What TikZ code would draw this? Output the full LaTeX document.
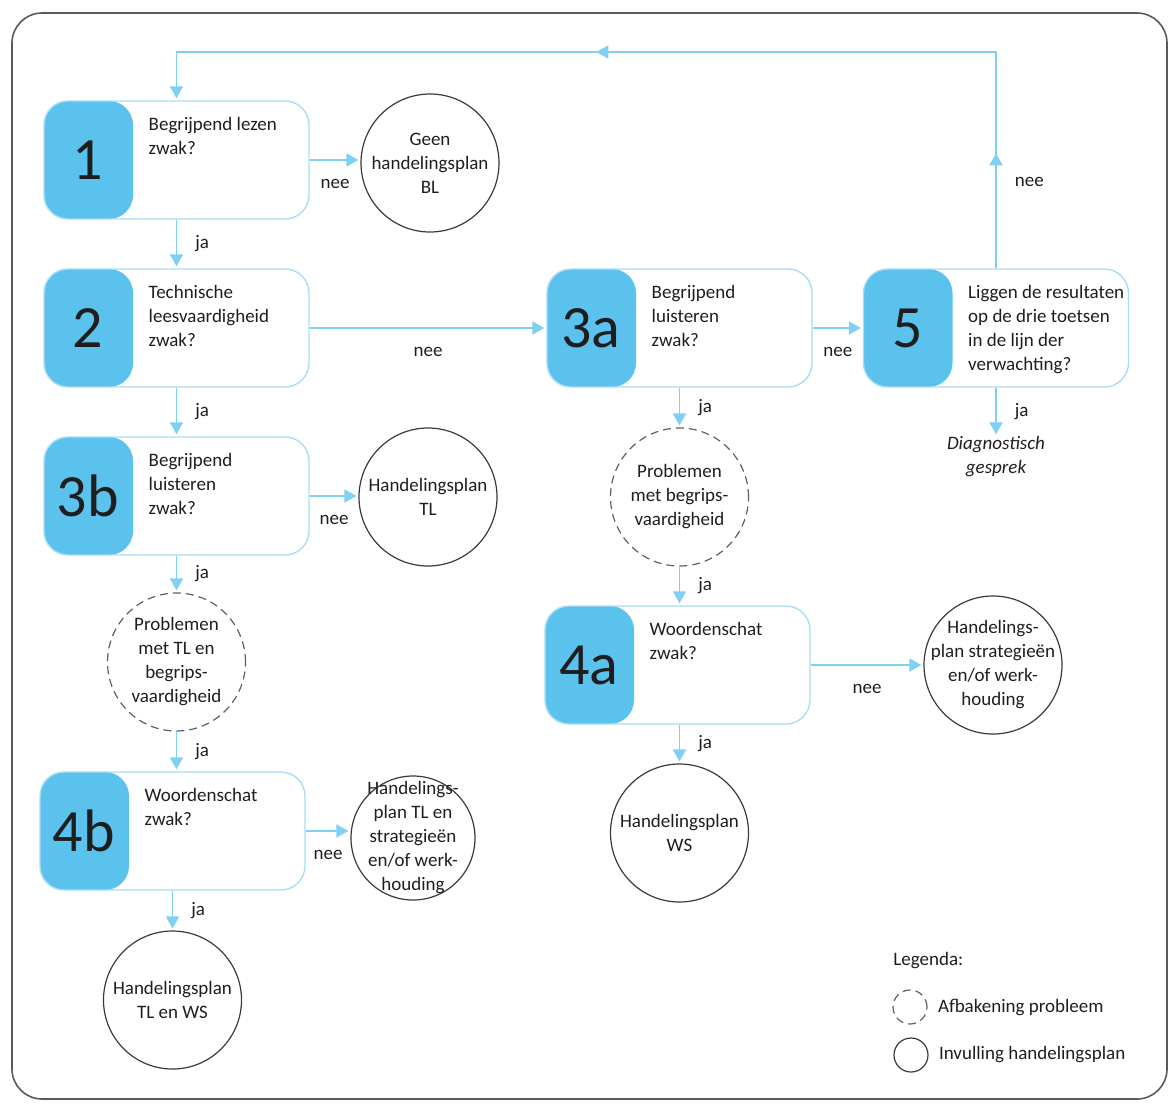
\documentclass[tikz,border=0pt]{standalone}
\usepackage{fontspec}
\setmainfont{Carlito}
\usetikzlibrary{arrows.meta,positioning,decorations.markings}

\definecolor{blauw}{HTML}{5BC2EE}
\definecolor{pijlkleur}{HTML}{7FD0F2}
\definecolor{rand}{HTML}{A9DDF3}
\definecolor{cirkel}{HTML}{3A3A3A}
\definecolor{streep}{HTML}{606060}
\definecolor{kader}{HTML}{5A5A5A}
\definecolor{tekst}{HTML}{1E1E1E}

\tikzset{
  vraagbox/.style={draw=rand, line width=0.7pt, rounded corners=12pt,
    minimum width=132.5pt, minimum height=59pt, inner sep=0pt,
    path picture={\fill[blauw] (path picture bounding box.south west)
      rectangle ([xshift=44.5pt]path picture bounding box.north west);}},
  nummer/.style={font=\fontsize{30}{30}\selectfont, text=tekst, inner sep=0pt},
  vraag/.style={font=\fontsize{9.5}{12}\selectfont, align=left,
    anchor=north west, inner sep=0pt, text=tekst},
  plan/.style={circle, draw=cirkel, line width=0.6pt, minimum size=69pt,
    inner sep=-6pt, align=center, font=\fontsize{9.5}{12}\selectfont, text=tekst},
  probleem/.style={plan, draw=streep, dash pattern=on 4pt off 2.5pt},
  pijl/.style={draw=pijlkleur, line width=0.9pt, shorten >=1pt,
    -{Triangle[length=6pt,width=6.5pt]}},
  lus/.style={pijl, postaction={decorate}, decoration={markings,
    mark=at position 57.5pt with {\arrow{Triangle[length=6pt,width=6.5pt]}},
    mark=at position 308pt with {\arrow{Triangle[length=6pt,width=6.5pt]}}}},
  ja/.style={midway, right=9pt, inner sep=0pt, text=tekst, font=\fontsize{9.5}{12}\selectfont},
  nee/.style={midway, below=9pt, inner sep=0pt, text=tekst, font=\fontsize{9.5}{12}\selectfont},
  legtekst/.style={inner sep=0pt, text=tekst, font=\fontsize{9.5}{12}\selectfont},
}

\begin{document}
\begin{tikzpicture}[x=0.5pt, y=-0.5pt]
  \useasboundingbox (0,0) rectangle (1170,1103);
  \draw[kader, line width=0.8pt, rounded corners=15pt] (12,13) rectangle (1167,1099);

  % vragen
  \node[vraagbox] (v1) at (176.5,160) {};
  \node[nummer] (v1n) at ([xshift=22.25pt]v1.west) {1};
  \node[vraag] (v1t) at ([xshift=52.5pt,yshift=-8.5pt]v1.north west) {Begrijpend lezen\\zwak?};

  \node[vraagbox] (v2) at (176.5,328) {};
  \node[nummer] (v2n) at ([xshift=22.25pt]v2.west) {2};
  \node[vraag] (v2t) at ([xshift=52.5pt,yshift=-8.5pt]v2.north west) {Technische\\leesvaardigheid\\zwak?};

  \node[vraagbox] (v3b) at (176.5,496) {};
  \node[nummer] (v3bn) at ([xshift=22.25pt]v3b.west) {3b};
  \node[vraag] (v3bt) at ([xshift=52.5pt,yshift=-8.5pt]v3b.north west) {Begrijpend\\luisteren\\zwak?};

  \node[vraagbox] (v4b) at (172.5,831) {};
  \node[nummer] (v4bn) at ([xshift=22.25pt]v4b.west) {4b};
  \node[vraag] (v4bt) at ([xshift=52.5pt,yshift=-8.5pt]v4b.north west) {Woordenschat\\zwak?};

  \node[vraagbox] (v3a) at (679.5,328) {};
  \node[nummer] (v3an) at ([xshift=22.25pt]v3a.west) {3a};
  \node[vraag] (v3at) at ([xshift=52.5pt,yshift=-8.5pt]v3a.north west) {Begrijpend\\luisteren\\zwak?};

  \node[vraagbox] (v4a) at (677.5,665) {};
  \node[nummer] (v4an) at ([xshift=22.25pt]v4a.west) {4a};
  \node[vraag] (v4at) at ([xshift=52.5pt,yshift=-8.5pt]v4a.north west) {Woordenschat\\zwak?};

  \node[vraagbox] (v5) at (996,328) {};
  \node[nummer] (v5n) at ([xshift=22.25pt]v5.west) {5};
  \node[vraag] (v5t) at ([xshift=52.5pt,yshift=-8.5pt]v5.north west) {Liggen de resultaten\\op de drie toetsen\\in de lijn der\\verwachting?};

  % uitkomsten
  \node[plan] (p1) at (430,163) {Geen\\handelingsplan\\BL};
  \node[plan] (p3b) at (428,497) {Handelingsplan\\TL};
  \node[probleem] (d3b) at (176.5,662) {Problemen\\met TL en\\begrips-\\vaardigheid};
  \node[plan, minimum size=62pt, inner sep=-10pt] (p4b) at (413,838) {Handelings-\\plan TL en\\strategieën\\en/of werk-\\houding};
  \node[plan] (p4bja) at (172.5,1000) {Handelingsplan\\TL en WS};
  \node[probleem] (d3a) at (679.5,497) {Problemen\\met begrips-\\vaardigheid};
  \node[plan] (p4aja) at (679.5,833) {Handelingsplan\\WS};
  \node[plan] (p4a) at (993,665) {Handelings-\\plan strategieën\\en/of werk-\\houding};
  \node[vraag, anchor=center, align=center, font=\fontsize{9.5}{12}\selectfont\itshape] (diag) at (996,457) {Diagnostisch\\gesprek};

  % pijlen
  \draw[pijl] (v1.east) -- (v1.east -| p1.west) node[nee] {nee};
  \draw[pijl] (v1) -- (v2) node[ja] {ja};
  \draw[pijl] (v2) -- (v3a) node[nee] {nee};
  \draw[pijl] (v2) -- (v3b) node[ja] {ja};
  \draw[pijl] (v3b.east) -- (v3b.east -| p3b.west) node[nee] {nee};
  \draw[pijl] (v3b) -- (d3b) node[ja] {ja};
  \draw[pijl] (d3b.south) -- (d3b.south |- v4b.north) node[ja] {ja};
  \draw[pijl] (v4b.east) -- (v4b.east -| p4b.west) node[nee] {nee};
  \draw[pijl] (v4b) -- (p4bja) node[ja] {ja};
  \draw[pijl] (v3a) -- (d3a) node[ja] {ja};
  \draw[pijl] (d3a.south) -- (d3a.south |- v4a.north) node[ja] {ja};
  \draw[pijl] (v4a.east) -- (v4a.east -| p4a.west) node[nee] {nee};
  \draw[pijl] (v4a.south -| p4aja) -- (p4aja) node[ja] {ja};
  \draw[pijl] (v3a) -- (v5) node[nee] {nee};
  \draw[pijl] (v5) -- (diag) node[ja] {ja};

  % terug naar het begin
  \coordinate (boven) at (600,52);
  \draw[lus] (v5.north) -- (v5.north |- boven) node[pos=0.4, right=9pt, legtekst] {nee}
    -- (v1.north |- boven) -- (v1.north);

  % legenda
  \node[legtekst, anchor=west] (leg) at (893,961) {Legenda:};
  \node[probleem, minimum size=17pt] (lg1) at (910,1007) {};
  \node[legtekst, right=5pt of lg1] (lg1t) {Afbakening probleem};
  \node[plan, minimum size=17pt] (lg2) at (911,1055) {};
  \node[legtekst, right=5pt of lg2] (lg2t) {Invulling handelingsplan};
\end{tikzpicture}
\end{document}
